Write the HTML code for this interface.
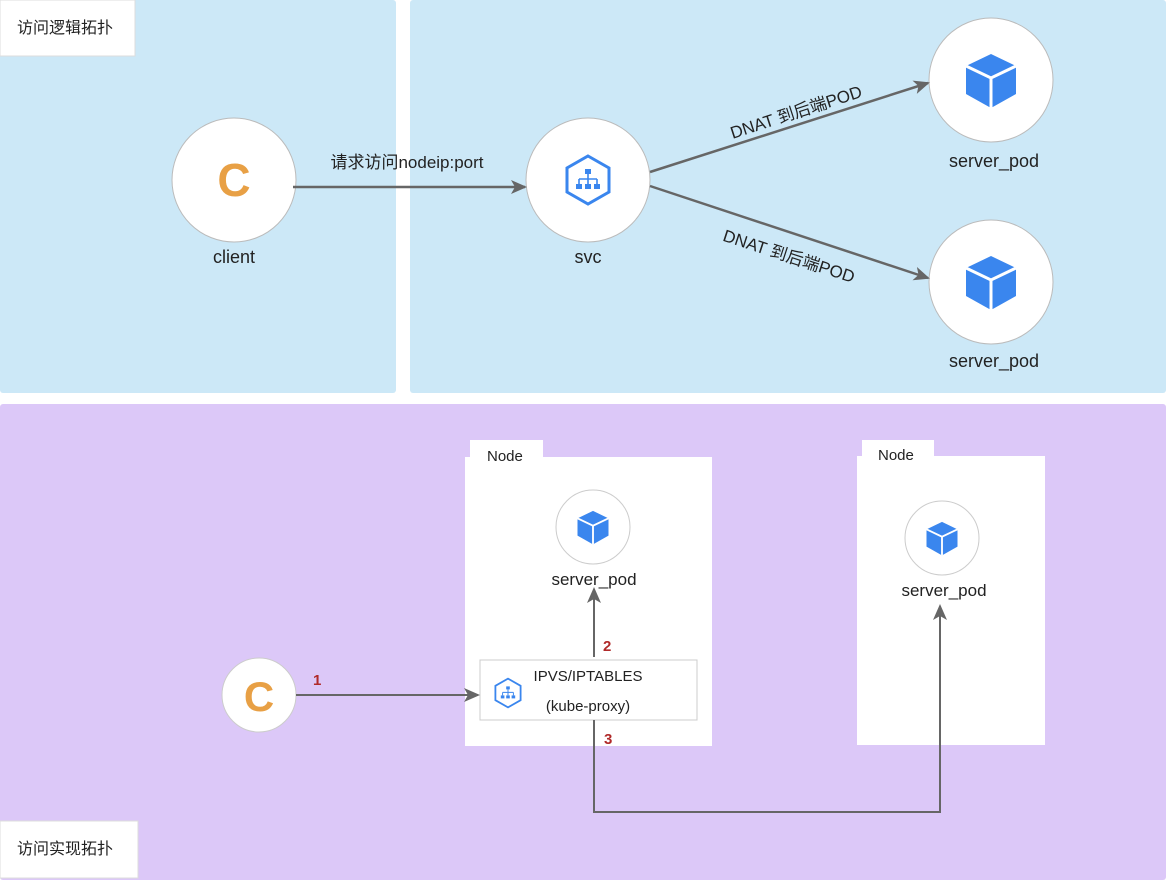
<!DOCTYPE html>
<html><head><meta charset="utf-8"><style>
body{margin:0;width:1169px;height:882px;overflow:hidden;background:#fff}
svg text{font-family:"Liberation Sans","Noto Sans CJK SC",sans-serif;fill:#222}
</style></head><body>
<svg width="1169" height="882" xmlns="http://www.w3.org/2000/svg">
<defs>
<g id="cube">
<polygon points="0,-26 25,-14 25,14 0,28 -25,14 -25,-14" fill="#3a86ee"/>
<polyline points="-25,-14 0,-2 25,-14" fill="none" stroke="#fff" stroke-width="3"/>
<line x1="0" y1="-2" x2="0" y2="28" stroke="#fff" stroke-width="3"/>
</g>
<g id="svcico">
<polygon points="0,-24 21,-12 21,12 0,24 -21,12 -21,-12" fill="none" stroke="#3a86ee" stroke-width="3"/>
<rect x="-3" y="-11" width="6" height="5" fill="#3a86ee"/>
<path d="M0,-6V-1M-9,-1H9M-9,-1V4M0,-1V4M9,-1V4" stroke="#3a86ee" stroke-width="1.6" fill="none"/>
<rect x="-12" y="4" width="6" height="5" fill="#3a86ee"/><rect x="-3" y="4" width="6" height="5" fill="#3a86ee"/><rect x="6" y="4" width="6" height="5" fill="#3a86ee"/>
</g>
<marker id="ar" markerWidth="16" markerHeight="14" refX="14" refY="7" orient="auto" markerUnits="userSpaceOnUse"><path d="M0,0L16,7L0,14L4,7z" fill="#666"/></marker>
</defs>
<rect x="0" y="0" width="396" height="393" rx="3" fill="#cce8f7"/>
<rect x="410" y="0" width="756" height="393" rx="3" fill="#cce8f7"/>
<rect x="0" y="404" width="1166" height="476" rx="3" fill="#dcc8f8"/>
<rect x="0" y="0" width="135" height="56" fill="#fff" stroke="#ddd"/>
<text x="17" y="33" font-size="16">访问逻辑拓扑</text>
<rect x="0" y="821" width="138" height="57" fill="#fff" stroke="#ddd"/>
<text x="17" y="854" font-size="16">访问实现拓扑</text>

<circle cx="234" cy="180" r="62" fill="#fff" stroke="#bbb"/>
<text x="234" y="196" font-size="46" font-weight="bold" text-anchor="middle" style="fill:#e8a045">C</text>
<text x="234" y="263" font-size="18" text-anchor="middle">client</text>
<circle cx="588" cy="180" r="62" fill="#fff" stroke="#bbb"/>
<use href="#svcico" x="588" y="180"/>
<text x="588" y="263" font-size="18" text-anchor="middle">svc</text>
<circle cx="991" cy="80" r="62" fill="#fff" stroke="#bbb"/>
<use href="#cube" x="991" y="80"/>
<text x="994" y="167" font-size="18" text-anchor="middle">server_pod</text>
<circle cx="991" cy="282" r="62" fill="#fff" stroke="#bbb"/>
<use href="#cube" x="991" y="282"/>
<text x="994" y="367" font-size="18" text-anchor="middle">server_pod</text>

<line x1="293" y1="187" x2="525" y2="187" stroke="#666" stroke-width="2.5" marker-end="url(#ar)"/>
<text x="407" y="168" font-size="17" text-anchor="middle">请求访问nodeip:port</text>
<line x1="650" y1="172" x2="928" y2="83" stroke="#666" stroke-width="2.5" marker-end="url(#ar)"/>
<line x1="650" y1="186" x2="928" y2="278" stroke="#666" stroke-width="2.5" marker-end="url(#ar)"/>
<text x="796" y="118" font-size="17" text-anchor="middle" transform="rotate(-18 796 112)">DNAT 到后端POD</text>
<text x="789" y="262" font-size="17" text-anchor="middle" transform="rotate(18 789 256)">DNAT 到后端POD</text>

<rect x="470" y="440" width="73" height="22" fill="#fff"/>
<rect x="465" y="457" width="247" height="289" fill="#fff"/>
<text x="487" y="461" font-size="15">Node</text>
<rect x="862" y="440" width="72" height="22" fill="#fff"/>
<rect x="857" y="456" width="188" height="289" fill="#fff"/>
<text x="878" y="460" font-size="15">Node</text>

<circle cx="593" cy="527" r="37" fill="#fff" stroke="#ccc"/>
<g transform="translate(593,527) scale(0.62)"><use href="#cube"/></g>
<text x="594" y="585" font-size="17" text-anchor="middle">server_pod</text>
<circle cx="942" cy="538" r="37" fill="#fff" stroke="#ccc"/>
<g transform="translate(942,538) scale(0.62)"><use href="#cube"/></g>
<text x="944" y="596" font-size="17" text-anchor="middle">server_pod</text>

<rect x="480" y="660" width="217" height="60" fill="#fff" stroke="#ccc"/>
<g transform="translate(508,693) scale(0.6)"><use href="#svcico"/></g>
<text x="588" y="681" font-size="15" text-anchor="middle">IPVS/IPTABLES</text>
<text x="588" y="711" font-size="15" text-anchor="middle">(kube-proxy)</text>

<circle cx="259" cy="695" r="37" fill="#fff" stroke="#ccc"/>
<text x="259" y="711" font-size="42" font-weight="bold" text-anchor="middle" style="fill:#e8a045">C</text>
<line x1="296" y1="695" x2="478" y2="695" stroke="#666" stroke-width="2" marker-end="url(#ar)"/>
<text x="313" y="685" font-size="15" font-weight="bold" style="fill:#b02a2a">1</text>
<line x1="594" y1="657" x2="594" y2="589" stroke="#666" stroke-width="2" marker-end="url(#ar)"/>
<text x="603" y="651" font-size="15" font-weight="bold" style="fill:#b02a2a">2</text>
<polyline points="594,720 594,812 940,812 940,606" fill="none" stroke="#666" stroke-width="2" marker-end="url(#ar)"/>
<text x="604" y="744" font-size="15" font-weight="bold" style="fill:#b02a2a">3</text>
</svg>
</body></html>
